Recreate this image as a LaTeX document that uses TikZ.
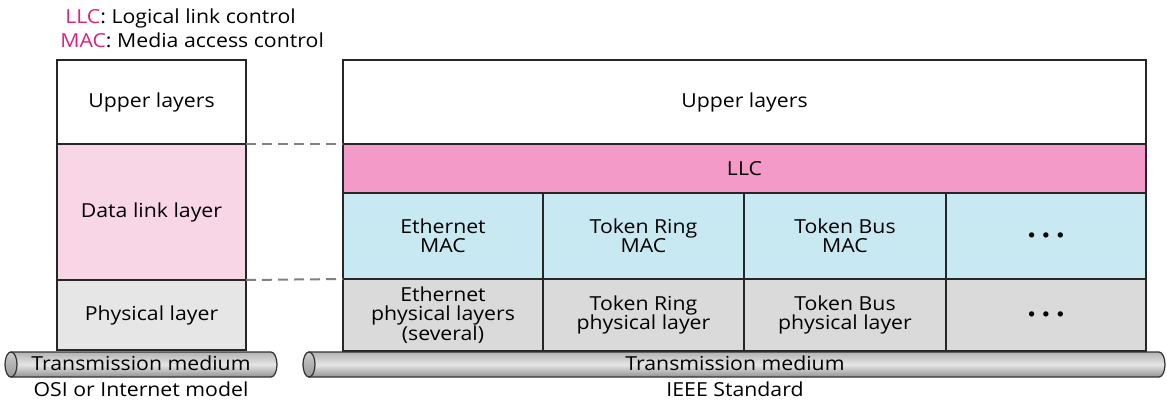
\documentclass[tikz,border=0pt]{standalone}
\usepackage{fontspec}
\setmainfont{Open Sans}[FakeStretch=1.1]
\usetikzlibrary{positioning}

\definecolor{keypink}{HTML}{D9247F}
\definecolor{llcpink}{HTML}{F49AC9}
\definecolor{dlpink}{HTML}{F9D6E6}
\definecolor{macblue}{HTML}{C8E9F1}
\definecolor{lgray}{HTML}{E6E6E6}
\definecolor{rgray}{HTML}{DADADA}

\begin{document}
\begin{tikzpicture}[x=0.2mm, y=-0.2mm,
  cell/.style={draw=black!85, line width=0.3mm, inner sep=0pt, outer sep=0pt, anchor=north west,
    align=center, font=\fontsize{11}{11}\selectfont},
  txt/.style={font=\fontsize{11}{11}\selectfont, inner sep=0pt},
  tube/.style={draw=black!80, line width=0.25mm, top color=gray!60, bottom color=gray!85, middle color=gray!20},
  tubeend/.style={draw=black!80, line width=0.25mm, top color=gray!40, bottom color=gray!80},
  link/.style={draw=gray, line width=0.4mm, dash pattern=on 2mm off 1.2mm}
]
\useasboundingbox (0,0) rectangle (1167,400);

% Key
\node[txt, anchor=west] (keyllc) at (65,18) {\textcolor{keypink}{LLC}: Logical link control};
\node[txt, anchor=west] (keymac) at (60,40) {\textcolor{keypink}{MAC}: Media access control};

% OSI stack
\node[cell, minimum width=37.8mm, minimum height=16.8mm] (lupper) at (57,60) {Upper layers};
\node[cell, minimum width=37.8mm, minimum height=27.2mm, fill=dlpink] (ldata) at (57,144) {Data link layer};
\node[cell, minimum width=37.8mm, minimum height=14mm, fill=lgray] (lphys) at (57,280) {Physical layer};

% IEEE stack
\node[cell, minimum width=160.6mm, minimum height=16.8mm] (rupper) at (343,60) {Upper layers};
\node[cell, minimum width=160.6mm, minimum height=9.8mm, fill=llcpink] (llc) at (343,144) {LLC};
\node[cell, minimum width=40mm, minimum height=17.2mm, fill=macblue] (ethmac) at (343,193) {Ethernet\\MAC};
\node[cell, minimum width=40.2mm, minimum height=17.2mm, fill=macblue] (trmac) at (543,193) {Token Ring\\MAC};
\node[cell, minimum width=40.4mm, minimum height=17.2mm, fill=macblue] (tbmac) at (744,193) {Token Bus\\MAC};
\node[cell, minimum width=40mm, minimum height=17.2mm, fill=macblue] (moremac) at (946,193) {\fontsize{7}{7}\selectfont$\bullet\;\bullet\;\bullet$};
\node[cell, minimum width=40mm, minimum height=14.4mm, fill=rgray] (ethphy) at (343,279) {Ethernet\\physical layers\\(several)};
\node[cell, minimum width=40.2mm, minimum height=14.4mm, fill=rgray] (trphy) at (543,279) {Token Ring\\physical layer};
\node[cell, minimum width=40.4mm, minimum height=14.4mm, fill=rgray] (tbphy) at (744,279) {Token Bus\\physical layer};
\node[cell, minimum width=40mm, minimum height=14.4mm, fill=rgray] (morephy) at (946,279) {\fontsize{7}{7}\selectfont$\bullet\;\bullet\;\bullet$};

% Layer correspondence
\draw[link] (lupper.south east) -- (rupper.south west);
\draw[link] (lphys.north east) -- (ethphy.north west);

% Transmission media
\path[tube] (11,352) -- (271,352) arc[start angle=90, end angle=-90, x radius=1.2mm, y radius=2.5mm] -- (11,377) -- cycle;
\path[tubeend] (11,364.5) ellipse[x radius=1.2mm, y radius=2.5mm];
\path[tube] (309,352) -- (1159,352) arc[start angle=90, end angle=-90, x radius=1.2mm, y radius=2.5mm] -- (309,377) -- cycle;
\path[tubeend] (309,364.5) ellipse[x radius=1.2mm, y radius=2.5mm];
\node[txt] (lmedium) at (141,363) {Transmission medium};
\node[txt] (rmedium) at (735,363) {Transmission medium};

% Captions
\node[txt] (osi) at (141,389) {OSI or Internet model};
\node[txt] (ieee) at (735,389) {IEEE Standard};

\end{tikzpicture}
\end{document}
